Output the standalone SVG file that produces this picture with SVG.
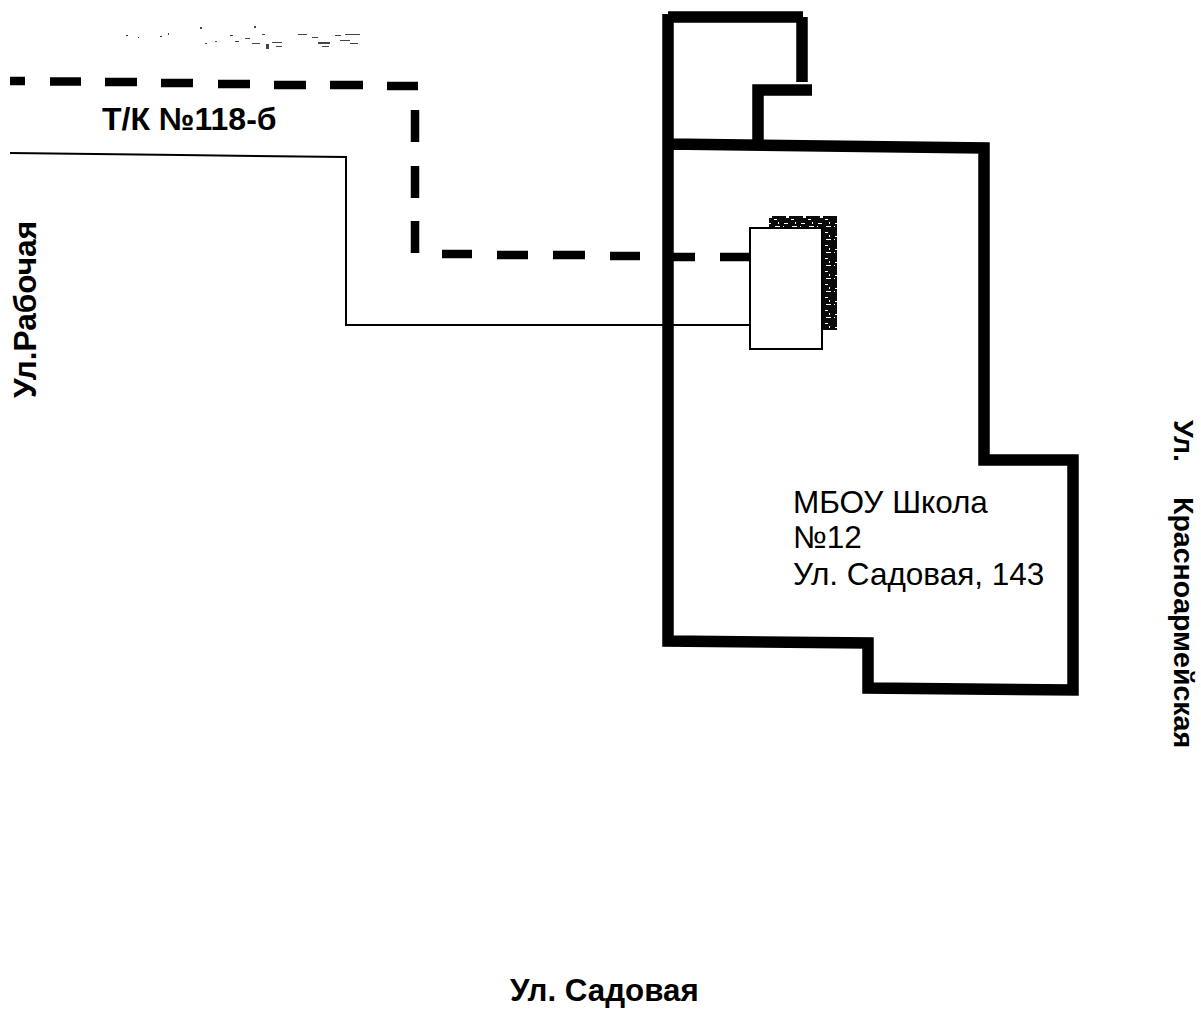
<svg xmlns="http://www.w3.org/2000/svg" width="1201" height="1010" viewBox="0 0 1201 1010">
<style>
.wall{fill:none;stroke:#000;stroke-width:11.500;stroke-linejoin:miter;stroke-linecap:butt}
.dash{fill:none;stroke:#000;stroke-width:8.500}
.thin{fill:none;stroke:#000;stroke-width:2}
.b{font-family:"Liberation Sans",Arial,sans-serif;font-weight:700;fill:#000}
.r{font-family:"Liberation Sans",Arial,sans-serif;fill:#000;font-size:31.500px}
</style>
<defs>
<pattern id="noise" width="17" height="13" patternUnits="userSpaceOnUse">
<rect width="17" height="13" fill="#0a0a0a"/>
<path d="M2 2h4v1h-4zM10 5h5v1h-5zM4 8h3v2h-3zM13 1h1v2h-1zM9 11h3v1h-3zM1 5h1v1h-1z" fill="#fff"/>
</pattern>
</defs>
<rect width="1201" height="1010" fill="#fff"/>
<path id="specks" fill="#444" d="M126 35h2v1h-2zM138 37h1v1h-1zM160 36h2v1h-2zM168 33h1v2h-1zM200 27h2v2h-2zM205 43h2v1h-2zM215 41h2v1h-2zM230 35h3v1h-3zM235 41h4v1h-4zM245 38h5v1h-5zM254 26h2v2h-2zM252 43h8v1h-8zM262 34h3v1h-3zM266 44h3v5h-3zM272 42h10v1h-10zM276 46h6v1h-6zM298 34h9v1h-9zM312 37h6v1h-6zM318 42h12v2h-12zM322 46h7v1h-7zM335 35h6v1h-6zM340 40h10v1h-10zM345 34h15v1h-15zM350 43h8v1h-8z"/>
<g id="connectors">
<path class="thin" d="M10 153L180 155L346 157V325H750"/>
<path class="dash" d="M10 81H25M50 81.500H81M105 82H137M161 83H193M218 84H250M274 85H306M330 85H363M387 86H418"/>
<path class="dash" d="M415 110V142M415 166V198M415 221V253"/>
<path class="dash" d="M442 254H472M497 255H528M553 255H585M610 256H640M673 257H695M720 257H750"/>
</g>
<g id="building">
<path class="wall" d="M668 17H803"/>
<path class="wall" d="M802 17V82"/>
<path class="wall" d="M812 90H758V144"/>
<path class="wall" d="M668 14V641L868 643V688L1073 690V460L984 460V148L668 144"/>
</g>
<g id="panel">
<rect x="769" y="216" width="68" height="114" fill="url(#noise)"/>
<rect x="750" y="228" width="72" height="121" fill="#fff" stroke="#000" stroke-width="2"/>
</g>
<text class="b" x="102" y="130" font-size="32">Т/К №118-б</text>
<text class="b" transform="translate(36 398) rotate(-90)" font-size="31.600">Ул.Рабочая</text>
<g class="b" font-size="28.500">
<text transform="translate(1174 420) rotate(90)">Ул.</text>
<text transform="translate(1174 497) rotate(90)">Красноармейская</text>
</g>
<text class="b" x="510" y="1001" font-size="31.300">Ул. Садовая</text>
<g id="school-label">
<text class="r" x="793" y="513">МБОУ Школа</text>
<text class="r" x="793" y="548">№12</text>
<text class="r" x="793" y="585">Ул. Садовая, 143</text>
</g>
</svg>
